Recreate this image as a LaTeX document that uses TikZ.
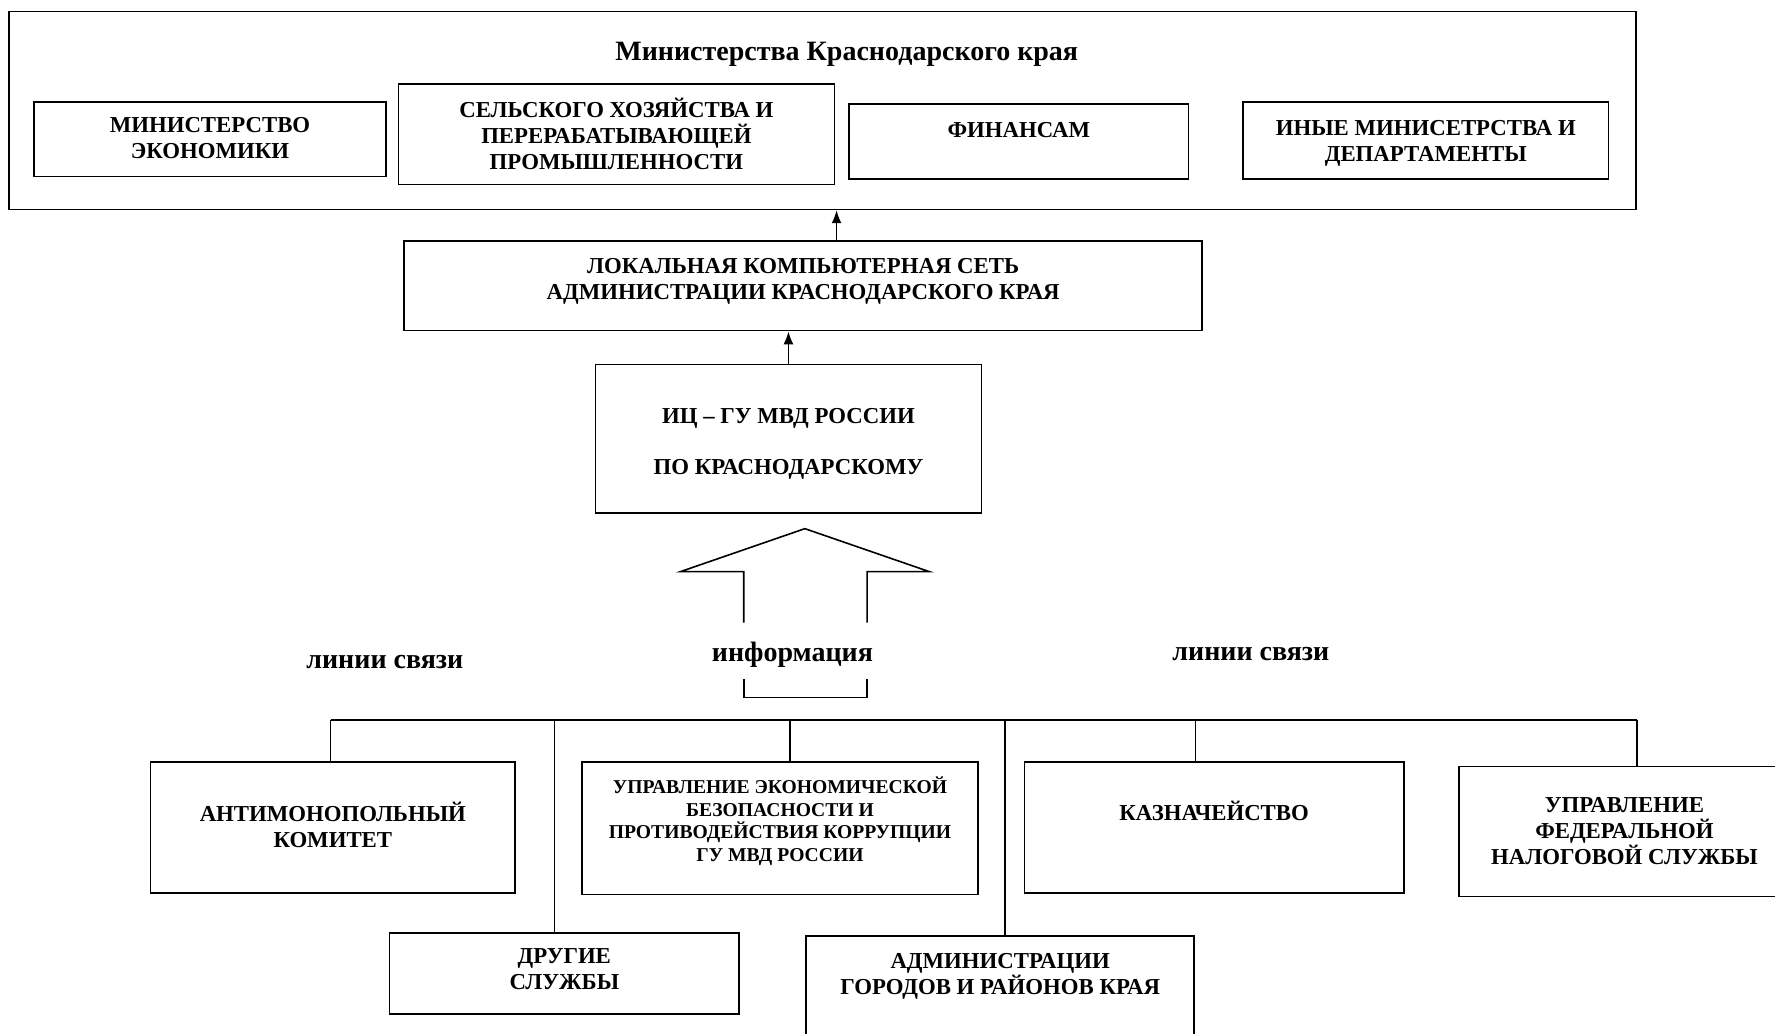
\documentclass[tikz,border=0pt]{standalone}
\usepackage{fontspec}
\setmainfont{Liberation Serif}
\usetikzlibrary{positioning, arrows, arrows.meta, calc, fit}
\tikzset{
  scheme/.style={
	x=0.566pt, y=-0.566pt, % one unit is one pixel of the scan
	line width=0.8pt, % lines of the boxes and connectors
	>={Latex[length=6.5pt, width=5pt]}, % filled arrow heads
	font=\bfseries\fontsize{11.4}{13}\selectfont, % text in the boxes
  },
  box/.style={draw, rectangle, inner sep=0pt}, % every box of the scheme
  txt/.style={align=center, inner sep=0pt}, % the name written in a box
  smalltext/.style={font=\bfseries\fontsize{9.8}{11.3}\selectfont}, % long names
  bigtext/.style={font=\bfseries\fontsize{14}{16}\selectfont}, % headings
}
\begin{document}
\begin{tikzpicture}[scheme]
	  \useasboundingbox (0,0) rectangle (1568,913);
	  % ministries
	  \node[box, fit={(8,10) (1445,185)}] (mins) {};
	  \node[bigtext] (title) at (748,48) {Министерства Краснодарского края};
	  \node[box, fit={(30,90) (341,156)}, label={[txt, yshift=0.6pt]center:МИНИСТЕРСТВО\\ЭКОНОМИКИ}] (econ) {};
	  \node[box, fit={(352,74) (737,163)}, label={[txt, yshift=0.3pt]center:СЕЛЬСКОГО ХОЗЯЙСТВА И\\ПЕРЕРАБАТЫВАЮЩЕЙ\\ПРОМЫШЛЕННОСТИ}] (agro) {};
	  \node[box, fit={(750,92) (1050,158)}, label={[txt, yshift=5.9pt]center:ФИНАНСАМ}] (fin) {};
	  \node[box, fit={(1098,90) (1421,158)}, label={[txt, yshift=-1.4pt]center:ИНЫЕ МИНИСЕТРСТВА И\\ДЕПАРТАМЕНТЫ}] (other) {};

	  \node[box, fit={(357,213) (1062,292)}, label={[txt, yshift=2.3pt]center:ЛОКАЛЬНАЯ КОМПЬЮТЕРНАЯ СЕТЬ\\АДМИНИСТРАЦИИ КРАСНОДАРСКОГО КРАЯ}] (lan) {};
	  \node[box, fit={(526,322) (867,453)}, label={[txt, yshift=-2.5pt]center:ИЦ – ГУ МВД РОССИИ\\[12.5pt]ПО КРАСНОДАРСКОМУ}] (ic) {};

	  \path (lan.north) ++(29.5,0) coordinate (lanout);
	  \draw[->] (lanout) -- (lanout |- mins.south);
	  \draw[->] (ic.north) -- (ic.north |- lan.south);

	  % hollow arrow and the bracket
	  \coordinate (shaftL) at (657,550);
	  \coordinate (shaftR) at (766,550);
	  \draw (shaftL) -- (657,505) -- (601,505) -- (711,467) -- (821,505) -- (766,505) -- (shaftR);
	  \node[bigtext] (info) at (700,578) {информация};
	  \draw (657,600) -- (657,616) -- (766,616) -- (766,600);
	  \node[bigtext] (linkL) at (340,585) {линии связи};
	  \node[bigtext] (linkR) at (1105,578) {линии связи};

	  % services
	  \node[box, fit={(133,673) (455,789)}, label={[txt, yshift=1.2pt]center:АНТИМОНОПОЛЬНЫЙ\\КОМИТЕТ}] (fas) {};
	  \node[box, fit={(514,673) (864,790)}, label={[txt, smalltext, yshift=3.4pt]center:УПРАВЛЕНИЕ ЭКОНОМИЧЕСКОЙ\\БЕЗОПАСНОСТИ И\\ПРОТИВОДЕЙСТВИЯ КОРРУПЦИИ\\ГУ МВД РОССИИ}] (ueb) {};
	  \node[box, fit={(905,673) (1240,789)}, label={[txt, yshift=8.2pt]center:КАЗНАЧЕЙСТВО}] (treas) {};
	  \node[box, fit={(1289,677) (1581,792)}, label={[txt, yshift=0.3pt]center:УПРАВЛЕНИЕ\\ФЕДЕРАЛЬНОЙ\\НАЛОГОВОЙ СЛУЖБЫ}] (fns) {};
	  \node[box, fit={(344,824) (653,896)}, label={[txt, yshift=2pt]center:ДРУГИЕ\\СЛУЖБЫ}] (misc) {};
	  \node[box, fit={(712,827) (1055,937)}, label={[txt, yshift=11pt]center:АДМИНИСТРАЦИИ\\ГОРОДОВ И РАЙОНОВ КРАЯ}] (adm) {};

	  % communication lines
	  \coordinate (b1) at (292,636);
	  \coordinate (b2) at (490,636);
	  \coordinate (b3) at (698,636);
	  \coordinate (b4) at (888,636);
	  \coordinate (b5) at (1056,636);
	  \coordinate (b6) at (1446,636);
	  \draw (b1) -- (b6);
	  \draw (b1) -- (b1 |- fas.north)
		(b2) -- (b2 |- misc.north)
		(b3) -- (b3 |- ueb.north)
		(b4) -- (b4 |- adm.north)
		(b5) -- (b5 |- treas.north)
		(b6) -- (b6 |- fns.north);
\end{tikzpicture}
\end{document}
